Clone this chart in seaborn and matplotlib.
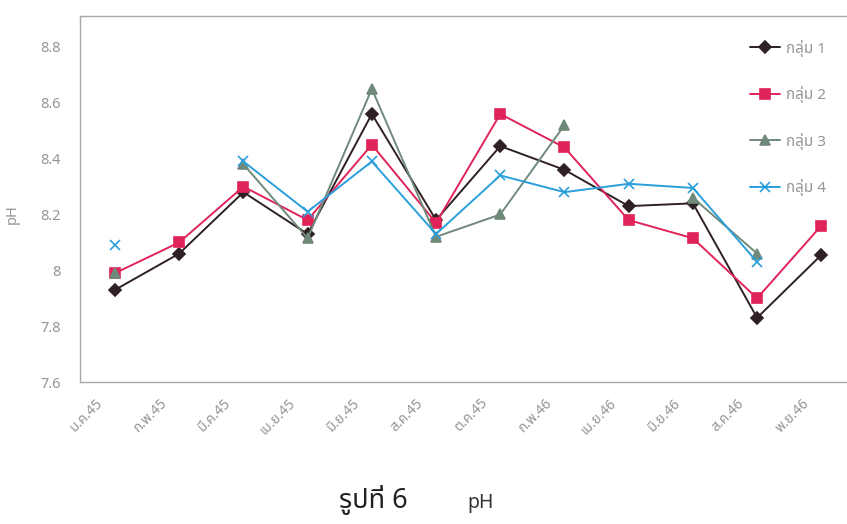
import numpy as np
import pandas as pd
import matplotlib
matplotlib.use("Agg")
import matplotlib.pyplot as plt
from matplotlib import font_manager, transforms
from matplotlib.lines import Line2D
import seaborn as sns

months = ["ม.ค.45", "ก.พ.45", "มี.ค.45", "เม.ย.45", "มิ.ย.45", "ส.ค.45",
          "ต.ค.45", "ก.พ.46", "เม.ย.46", "มิ.ย.46", "ส.ค.46", "พ.ย.46"]
group_names = ["กลุ่ม 1", "กลุ่ม 2", "กลุ่ม 3", "กลุ่ม 4"]
ph_group1 = [7.93, 8.06, 8.28, 8.13, 8.56, 8.18, 8.445, 8.36, 8.23, 8.24, 7.83, 8.055]
ph_group2 = [7.99, 8.10, 8.30, 8.18, 8.45, 8.17, 8.56, 8.44, 8.18, 8.115, 7.90, 8.16]
ph_group3 = [7.99, np.nan, 8.38, 8.115, 8.65, 8.12, 8.20, 8.52, np.nan, 8.26, 8.06, np.nan]
ph_group4 = [8.09, np.nan, 8.39, 8.21, 8.39, 8.13, 8.34, 8.28, 8.31, 8.295, 8.03, np.nan]
y_ticks = [7.6, 7.8, 8.0, 8.2, 8.4, 8.6, 8.8]
y_tick_labels = ["7.6", "7.8", "8", "8.2", "8.4", "8.6", "8.8"]

sns.set_theme(style="white")

# pick a font that covers Thai script, falling back to DejaVu Sans
available = {f.name for f in font_manager.fontManager.ttflist}
thai_candidates = ["Noto Sans Thai", "Noto Sans Thai UI", "Noto Serif Thai", "Loma",
                   "Garuda", "Tlwg Typo", "Kinnari", "Sarabun", "Tahoma", "Leelawadee UI"]
families = [f for f in thai_candidates if f in available] + ["DejaVu Sans"]
plt.rcParams["font.family"] = families

# long table; each series is split into unbroken runs so missing months leave gaps
rows = []
for name, vals in zip(group_names, [ph_group1, ph_group2, ph_group3, ph_group4]):
    seg = 0
    prev_nan = True
    for i, v in enumerate(vals):
        if np.isnan(v):
            prev_nan = True
            continue
        if prev_nan:
            seg += 1
        prev_nan = False
        rows.append({"month": i, "pH": v, "group": name, "run": f"{name}-{seg}"})
df = pd.DataFrame(rows)

colors = {"กลุ่ม 1": "#2e2024", "กลุ่ม 2": "#e0245a",
          "กลุ่ม 3": "#6f8a7a", "กลุ่ม 4": "#2a9fdc"}
markers = {"กลุ่ม 1": "D", "กลุ่ม 2": "s", "กลุ่ม 3": "^", "กลุ่ม 4": "x"}
msizes = {"กลุ่ม 1": 6, "กลุ่ม 2": 7.5, "กลุ่ม 3": 7, "กลุ่ม 4": 7}

fig = plt.figure(figsize=(8.47, 5.24), dpi=100)
ax = fig.add_axes([80 / 847, 1 - 382 / 524, 1 - 80 / 847, (382 - 16) / 524])

for name in group_names:
    sub = df[df["group"] == name]
    sns.lineplot(data=sub, x="month", y="pH", units="run", estimator=None, sort=False,
                 color=colors[name], marker=markers[name], markersize=msizes[name],
                 markeredgecolor=colors[name], markeredgewidth=1.2,
                 linewidth=1.4, ax=ax, legend=False)

ax.set_xlim(-0.545, 11.40)
ax.set_ylim(7.6, 8.911)
ax.set_yticks(y_ticks)
ax.set_yticklabels(y_tick_labels)
ax.set_xticks(range(len(months)))
ax.set_xticklabels(months, rotation=45, ha="right", rotation_mode="anchor")
ax.tick_params(axis="y", length=0, pad=14, labelsize=10.5, labelcolor="#959595")
ax.tick_params(axis="x", length=0, pad=10, labelsize=10, labelcolor="#959595")
shift = transforms.ScaledTranslation(-20 / 100, 0, fig.dpi_scale_trans)
for lab in ax.get_xticklabels():
    lab.set_transform(lab.get_transform() + shift)

ax.set_xlabel("")
ax.set_ylabel("pH", fontsize=10.5, color="#959595")
ax.yaxis.set_label_coords(-0.078, 0.46)

for side in ["top", "left", "bottom"]:
    ax.spines[side].set_color("#a8a8a8")
    ax.spines[side].set_linewidth(1.0)
ax.spines["right"].set_visible(False)

handles = [Line2D([], [], color=colors[n], marker=markers[n], markersize=msizes[n],
                  markeredgecolor=colors[n], markeredgewidth=1.2, linewidth=1.4)
           for n in group_names]
ax.legend(handles, group_names, loc="upper left", bbox_to_anchor=(0.855, 0.973),
          frameon=False, fontsize=11, labelspacing=1.93, handlelength=2.0,
          handletextpad=0.4, labelcolor="#959595")

fig.text(0.400, 0.030, "รูปที่ 6", fontsize=19.5, color="#222222", weight="bold")
fig.text(0.552, 0.030, "pH", fontsize=14, color="#333333")

fig.savefig("out.png", dpi=100, facecolor="white")
